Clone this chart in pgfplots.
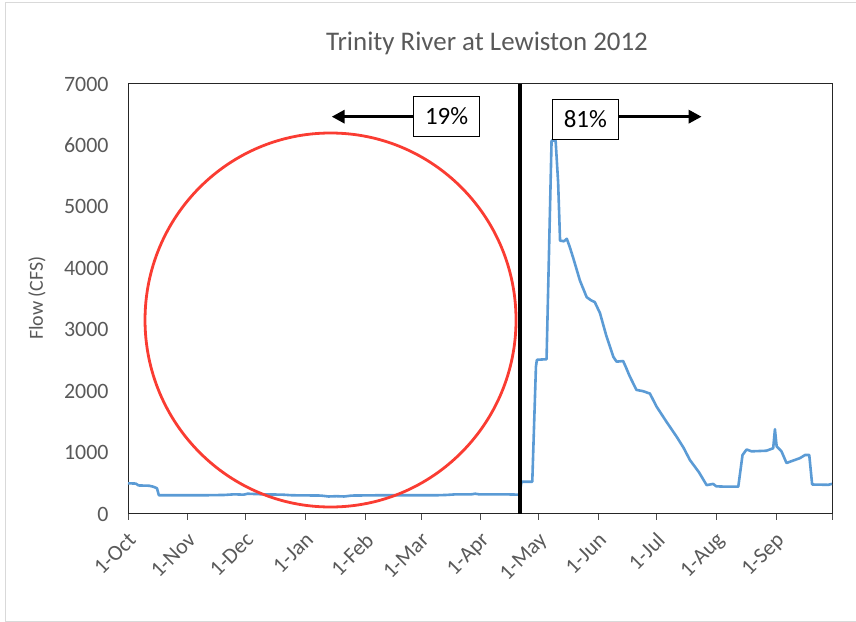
\documentclass[border=0pt]{standalone}
\usepackage{fontspec}
\setmainfont{Carlito}
\usepackage{pgfplots}
\pgfplotsset{compat=1.18}
\usetikzlibrary{arrows.meta}
\definecolor{flowblue}{RGB}{91,155,213}
\definecolor{txtgray}{RGB}{89,89,89}
\definecolor{circred}{RGB}{250,60,50}
\definecolor{framegray}{RGB}{217,217,217}
\begin{document}
\begin{tikzpicture}[x=1bp,y=1bp]
\useasboundingbox (0,0) rectangle (856,622);
\draw[framegray, line width=1bp] (856,0.5) -- (5,0.5) -- (5,619.5) -- (856,619.5);
\begin{axis}[
  at={(128bp,108bp)}, anchor=south west,
  width=704bp, height=430bp, scale only axis,
  xmin=0, xmax=365, ymin=0, ymax=7000,
  xtick={0,31,61,92,123,152,183,213,244,274,305,336,365},
  xticklabels={1-Oct,1-Nov,1-Dec,1-Jan,1-Feb,1-Mar,1-Apr,1-May,1-Jun,1-Jul,1-Aug,1-Sep,},
  ytick={0,1000,...,7000},
  scaled y ticks=false,
  /pgf/number format/1000 sep={},
  /pgf/number format/assume math mode=true,
  xtick pos=bottom, tick align=outside,
  major tick length=6bp,
  xtick style={black!70, line width=1bp},
  ytick style={draw=none},
  axis line style={black!85, line width=1bp},
  ticklabel style={font=\fontsize{22}{25}\selectfont, text=txtgray},
  xticklabel style={xshift=-1bp, yshift=-11bp, rotate=45, anchor=north east, inner sep=0pt},
  yticklabel style={xshift=-10bp},
  title={Trinity River at Lewiston 2012},
  title style={font=\fontsize{27}{31}\selectfont, text=txtgray, at={(rel axis cs:0.5,1)}, anchor=center, xshift=7bp, yshift=35bp},
  ylabel={Flow (CFS)},
  ylabel style={font=\fontsize{20}{23}\selectfont, text=txtgray, at={(rel axis cs:0,0.502)}, anchor=center, yshift=91bp},
  clip=false,
]
\addplot[flowblue, line width=2.6bp, line join=round] coordinates {
(0,500) (4,495) (5.5,465) (11,460) (13,445) (15,420) (16,305) (40,305) (50,310)
(55,320) (60,315) (62,330) (70,320) (80,315) (85,305) (100,300) (104,285) (108,290)
(112,285) (116,300) (130,305) (150,305) (160,305) (165,310) (170,320) (178,320)
(180,330) (182,320) (195,320) (203,315)
(204,525) (209.6,525) (211.5,2400) (212,2510) (217,2520) (219.6,6080) (221.7,6080)
(223,5400) (224,4450) (226,4440) (227.5,4480) (229,4350) (231,4150) (234.3,3800)
(237.8,3530) (240,3480) (242,3450) (244.7,3270) (248,2900) (251.6,2560) (253.3,2480)
(256.7,2490) (258,2400) (260,2250) (263.6,2020) (267,2000) (270.6,1960) (274,1750)
(279.2,1500) (284.4,1260) (288,1080) (291.3,880) (296,680) (300,470) (303.4,490)
(305,450) (310,445) (316.4,445) (318.6,960) (320.7,1050) (323.3,1020) (331,1030)
(334.5,1070) (335.4,1380) (336.3,1100) (338.8,1020) (341.4,830) (344,860) (348.4,910)
(351,960) (353.2,960) (354.7,480) (363,475) (365,490)
};
\draw[black, line width=4bp] (axis cs:203.2,0) -- (axis cs:203.2,7000);
\draw[circred, line width=2.8bp] (axis cs:105,3158) ellipse [x radius=185.5bp, y radius=187bp];
\node[draw=black, line width=0.9bp, fill=white, minimum width=66bp, minimum height=40bp, inner sep=0pt, font=\fontsize{25}{28}\selectfont] (b19) at (axis cs:165.2,6479) {19\%};
\node[draw=black, line width=0.9bp, fill=white, minimum width=66bp, minimum height=40bp, inner sep=0pt, font=\fontsize{25}{28}\selectfont] (b81) at (axis cs:237.1,6425) {81\%};
\draw[line width=3.6bp, -{Triangle[length=13bp, width=13bp]}] (b19.west |- {axis cs:0,6468}) -- (axis cs:105.6,6468);
\draw[line width=3.6bp, -{Triangle[length=13bp, width=13bp]}] (b81.east |- {axis cs:0,6468}) -- (axis cs:297.4,6468);
\end{axis}
\end{tikzpicture}
\end{document}
